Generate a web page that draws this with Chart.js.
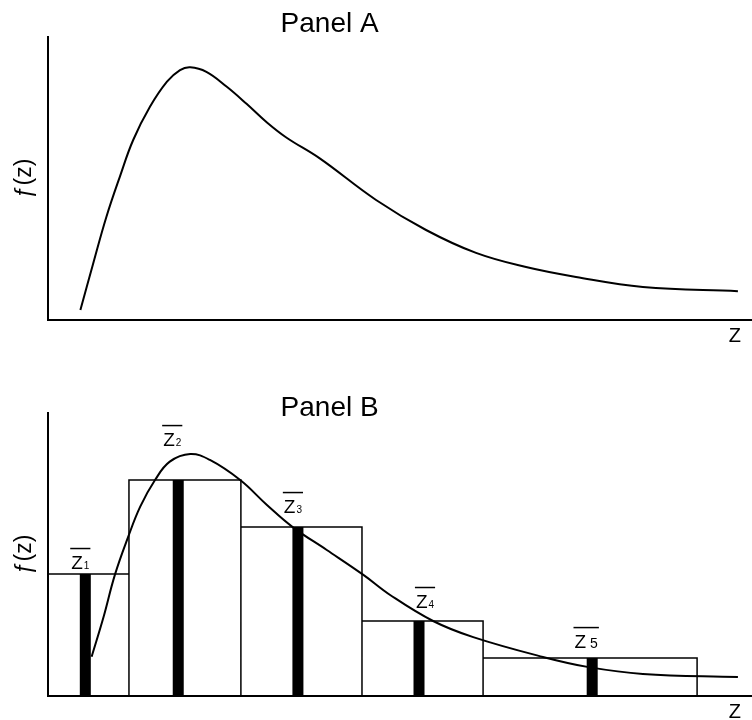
<!DOCTYPE html>
<html>
<head>
<meta charset="utf-8">
<script src="https://cdn.jsdelivr.net/npm/chart.js@4.4.1/dist/chart.umd.min.js"></script>
<style>
  html, body { margin: 0; padding: 0; background: #fff; overflow: hidden; }
  .panel { position: absolute; left: 0; width: 752px; height: 350px; }
  #panelA { top: 0; }
  #panelB { top: 376px; }
</style>
</head>
<body>
<div class="panel" id="panelA"><canvas id="chartA"></canvas></div>
<div class="panel" id="panelB"><canvas id="chartB"></canvas></div>
<script>
// Panel A - smooth density f(z)
const curveAx = [4.6, 6.4, 8.3, 10.2, 12.1, 14.5, 16.9, 18.75, 20.2, 22.5, 25.4, 28.2, 31.1, 33.9, 38.6, 46.6, 53.7, 60.8, 67.9, 75.0, 84.5, 98.0];
const curveAy = [3.5, 19.8, 36.5, 50.6, 63.6, 75.4, 84.2, 88.3, 89.3, 87.7, 82.4, 76.4, 69.8, 64.4, 57.1, 42.4, 31.8, 23.7, 18.7, 15.2, 11.7, 10.2];

// Panel B - same density with five bins
const curveBx = [6.2, 7.9, 9.5, 11.4, 13.1, 15.2, 17.3, 20.2, 23.0, 27.3, 31.1, 34.8, 39.6, 44.8, 48.6, 54.7, 60.4, 70.3, 76.8, 84.5, 98.0];
const curveBy = [13.9, 28.0, 42.8, 56.3, 66.9, 76.3, 82.8, 85.5, 83.4, 76.3, 67.5, 59.6, 51.6, 42.8, 35.7, 26.5, 20.8, 13.8, 10.2, 7.8, 6.7];

const binEdges = [0, 11.5, 27.4, 44.6, 61.8, 92.2];
const binHeights = [43.1, 76.3, 59.7, 26.5, 13.4];
const binMeans = [5.3, 18.5, 35.5, 52.7, 77.3];
const meanSubscripts = ['1', '2', '3', '4', '5'];

const FONT = '"Liberation Sans", Arial, sans-serif';
Chart.defaults.font.family = FONT;
Chart.defaults.color = '#000';

function toPoints(xs, ys) {
    return xs.map((x, i) => ({ x: x, y: ys[i] }));
}

// rectangle outlines, one closed box per bin, broken by a gap
const binOutline = [];
binHeights.forEach((h, i) => {
    const x0 = binEdges[i], x1 = binEdges[i + 1];
    binOutline.push({ x: x0, y: 0 }, { x: x0, y: h }, { x: x1, y: h }, { x: x1, y: 0 }, { x: x1, y: null });
});

// thick black bars at the bin means
const meanBars = [];
binMeans.forEach((m, i) => {
    meanBars.push({ x: m, y: 0 }, { x: m, y: binHeights[i] }, { x: m, y: null });
});

const panelTitle = {
    id: 'panelTitle',
    afterDraw(chart, args, opts) {
        const { ctx, chartArea } = chart;
        ctx.save();
        ctx.font = '28px ' + FONT;
        ctx.fillStyle = '#000';
        ctx.textAlign = 'center';
        ctx.textBaseline = 'alphabetic';
        ctx.fillText(opts.text, chartArea.left + (chartArea.right - chartArea.left) * 0.4, opts.baseline);
        ctx.restore();
    }
};

const meanLabels = {
    id: 'meanLabels',
    afterDatasetsDraw(chart, args, opts) {
        if (!opts.show) return;
        const { ctx, scales: { x, y } } = chart;
        ctx.save();
        ctx.fillStyle = '#000';
        ctx.strokeStyle = '#000';
        ctx.lineWidth = 1.5;
        ctx.textAlign = 'left';
        ctx.textBaseline = 'alphabetic';
        binMeans.forEach((m, i) => {
            const big = i === 4;
            ctx.font = '19px ' + FONT;
            const zw = ctx.measureText('Z').width;
            const subFont = (big ? 14 : 10) + 'px ' + FONT;
            ctx.font = subFont;
            const sw = ctx.measureText(meanSubscripts[i]).width;
            const gap = big ? 4 : 1;
            const total = zw + gap + sw;
            const cx = x.getPixelForValue(m) + opts.dx[i];
            const base = y.getPixelForValue(binHeights[i]) - opts.lift[i];
            const left = cx - total / 2;
            ctx.font = '19px ' + FONT;
            ctx.fillText('Z', left, base);
            ctx.font = subFont;
            ctx.fillText(meanSubscripts[i], left + zw + gap, base);
            ctx.beginPath();
            ctx.moveTo(left - 1, base - 20.5);
            ctx.lineTo(left + total + 1, base - 20.5);
            ctx.stroke();
        });
        ctx.restore();
    }
};

function makePanel(canvasId, title, baseline, datasets, withLabels) {
    return new Chart(document.getElementById(canvasId), {
        type: 'line',
        data: { datasets: datasets },
        options: {
            responsive: true,
            maintainAspectRatio: false,
            animation: false,
            events: [],
            layout: { padding: { top: 37, right: 0, bottom: 0, left: 0 } },
            scales: {
                x: {
                    type: 'linear',
                    min: 0,
                    max: 100,
                    grid: { display: false, drawTicks: false },
                    ticks: { display: false },
                    border: { display: true, color: '#000', width: 2 },
                    title: {
                        display: true,
                        text: 'Z  ',
                        align: 'end',
                        font: { size: 20 },
                        padding: { top: 4, bottom: 2 }
                    }
                },
                y: {
                    min: 0,
                    max: 100,
                    grid: { display: false, drawTicks: false },
                    ticks: { display: false },
                    border: { display: true, color: '#000', width: 2 },
                    title: {
                        display: true,
                        text: 'ƒ(z)',
                        font: { size: 23 },
                        padding: { top: 11, bottom: 0 }
                    },
                    afterFit: function (scale) { scale.width = 48; }
                }
            },
            plugins: {
                legend: { display: false },
                tooltip: { enabled: false },
                panelTitle: { text: title, baseline: baseline },
                meanLabels: { show: withLabels, dx: [-5, -6, -5, 6, -6], lift: [5, 34, 14, 13, 10] }
            }
        },
        plugins: [panelTitle, meanLabels]
    });
}

makePanel('chartA', 'Panel A', 32, [{
    label: 'f(z)',
    data: toPoints(curveAx, curveAy),
    borderColor: '#000',
    borderWidth: 2,
    pointRadius: 0,
    fill: false,
    tension: 0.4
}], false);

makePanel('chartB', 'Panel B', 40, [{
    label: 'bins',
    data: binOutline,
    borderColor: '#000',
    borderWidth: 1.5,
    pointRadius: 0,
    fill: false,
    tension: 0,
    spanGaps: false
}, {
    label: 'means',
    data: meanBars,
    borderColor: '#000',
    borderWidth: 11,
    borderCapStyle: 'butt',
    pointRadius: 0,
    fill: false,
    tension: 0,
    spanGaps: false
}, {
    label: 'f(z)',
    data: toPoints(curveBx, curveBy),
    borderColor: '#000',
    borderWidth: 2,
    pointRadius: 0,
    fill: false,
    tension: 0.4
}], true);
</script>
</body>
</html>
